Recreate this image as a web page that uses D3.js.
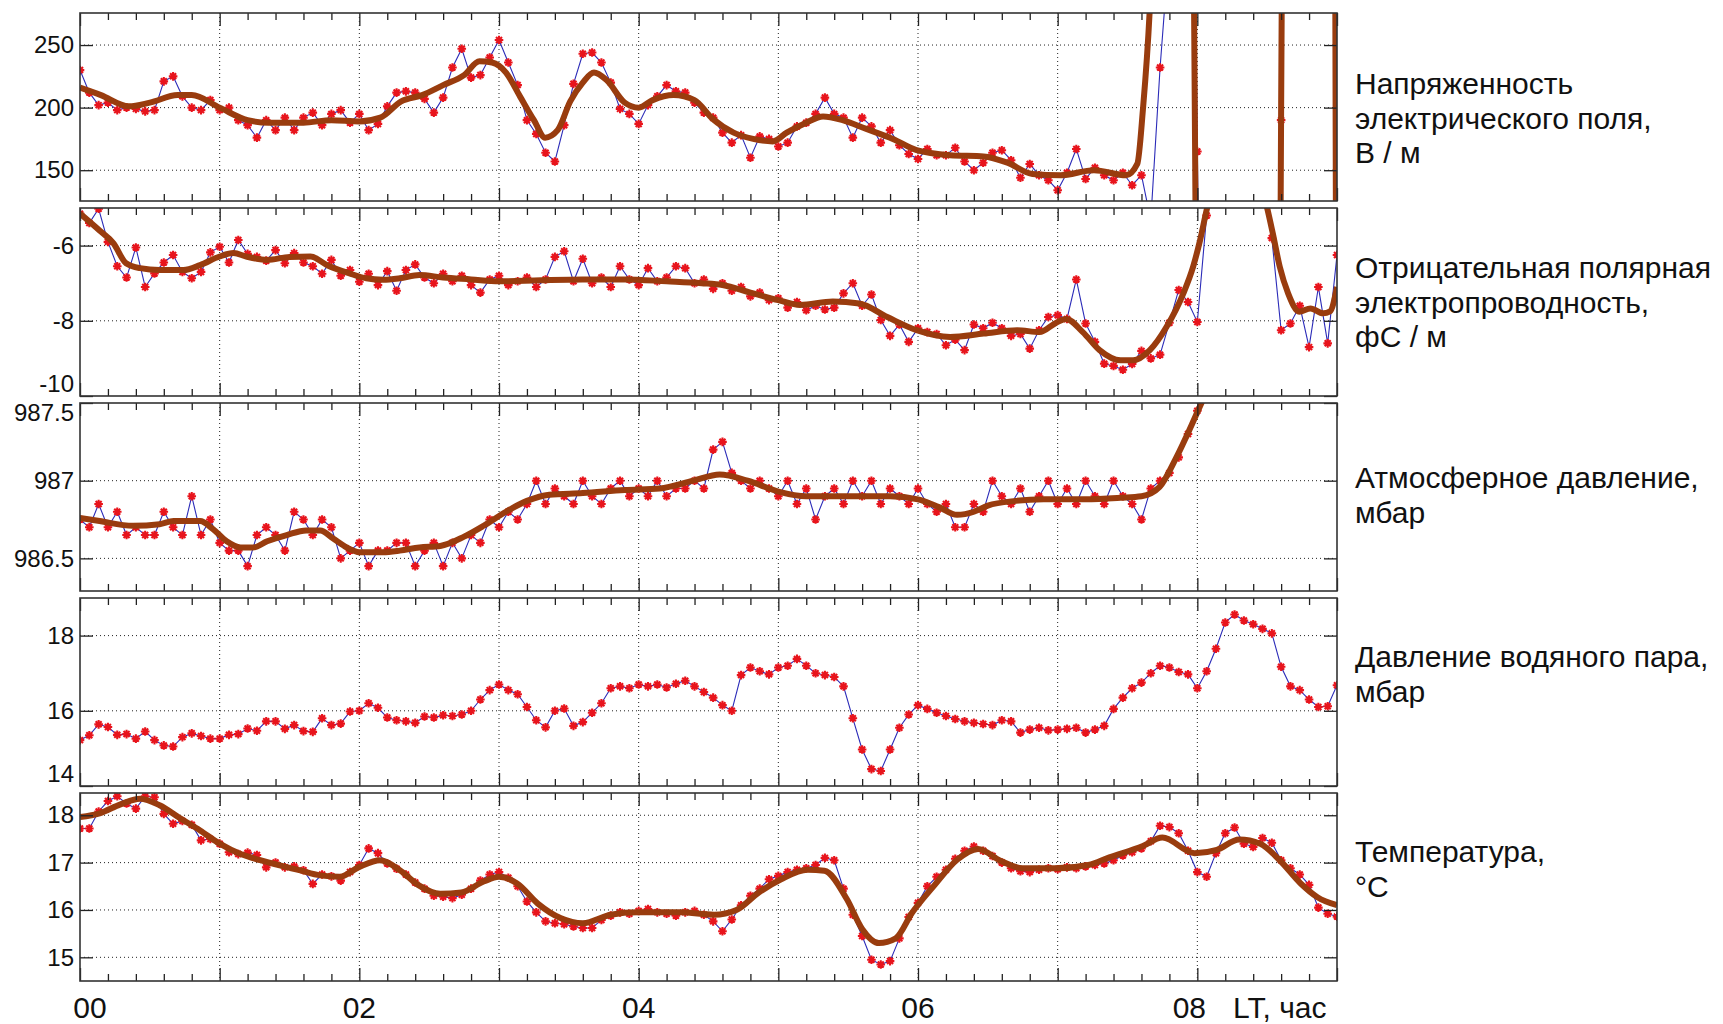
<!DOCTYPE html>
<html>
<head>
<meta charset="utf-8">
<script src="https://cdn.jsdelivr.net/npm/d3@7"></script>
<style>
  body { margin: 0; background: #fff; }
  svg { display: block; font-family: "Liberation Sans", Arial, sans-serif; }
  .grid line { stroke: #222; stroke-width: 1; stroke-dasharray: 1,3; }
</style>
</head>
<body>
<svg id="chart" width="1723" height="1024"></svg>
<script>
// sampling step of the raw records, minutes (time = index * step)
const STEP_MIN = 4;

// --- electric field, V/m
const fieldRaw = [
  230,212,202,204,198,200,199,197,198,221,
  225,209,200,198,206,198,200,190,186,176,
  190,182,192,182,192,196,186,195,198,188,
  195,182,187,201,212,213,212,207,196,208,
  232,247,224,226,240,254,236,218,190,179,
  164,157,186,219,243,244,236,220,199,195,
  187,202,209,218,213,212,204,196,192,180,
  172,178,160,177,175,169,172,185,188,195,
  208,195,192,176,192,185,172,182,170,163,
  159,167,162,162,168,157,150,156,164,166,
  158,144,155,146,142,134,148,167,143,152,
  146,142,148,138,146,110,232,330,520,800,
  165,-400,-500,-600,-600,-600,-500,-500,-400,190,
  800,900,900,900,900,900
];
const fieldSmoothT = [0,0.15,0.35,0.5,0.7,0.8,1.0,1.2,1.35,1.6,1.8,2.0,2.15,2.3,2.45,2.6,2.75,2.86,2.95,
  3.05,3.15,3.25,3.33,3.42,3.51,3.6,3.68,3.77,3.9,4.0,4.1,4.25,4.4,4.53,4.68,4.82,4.96,
  5.06,5.2,5.32,5.46,5.63,5.82,5.99,6.23,6.47,6.64,6.82,7.02,7.26,7.49,7.57,7.61,7.66,7.75,7.85,7.9,7.985,
  8.05,8.3,8.56,8.6,8.65,8.85,8.98,9.0];
const fieldSmoothV = [216,210,201,204,210,210,200,190,188,188,190,189,192,205,210,218,226,237,236,
  228,209,190,176,182,205,220,228,222,204,200,206,210,206,191,180,175,173,
  180,188,193,190,183,175,166,162,161,156,147,146,150,146,155,198,280,600,900,1200,150,
  -800,-1500,-600,200,1000,1500,600,-200];
const fieldTicks = [150, 200, 250];
const fieldLabel = ["Напряженность", "электрического поля,", "В / м"];

// --- negative polar conductivity, fS/m
const condRaw = [
  -5.15,-5.40,-5.02,-5.90,-6.55,-6.85,-6.05,-7.10,-6.74,-6.45,
  -6.25,-6.70,-6.87,-6.70,-6.18,-6.03,-6.45,-5.85,-6.22,-6.30,
  -6.40,-6.12,-6.47,-6.20,-6.45,-6.55,-6.75,-6.38,-6.80,-6.65,
  -6.96,-6.75,-7.05,-6.68,-7.20,-6.65,-6.50,-6.85,-7.00,-6.75,
  -6.95,-6.80,-7.05,-7.25,-6.90,-6.80,-7.05,-6.95,-6.85,-7.10,
  -6.90,-6.30,-6.15,-6.95,-6.35,-7.00,-6.85,-7.10,-6.55,-6.90,
  -7.05,-6.60,-6.95,-6.85,-6.55,-6.60,-7.00,-6.90,-7.15,-7.00,
  -7.20,-7.10,-7.35,-7.25,-7.45,-7.40,-7.65,-7.50,-7.72,-7.60,
  -7.70,-7.65,-7.27,-7.00,-7.60,-7.30,-7.98,-8.40,-8.10,-8.56,
  -8.20,-8.30,-8.35,-8.65,-8.50,-8.78,-8.10,-8.20,-8.05,-8.20,
  -8.40,-8.35,-8.74,-8.25,-7.90,-7.85,-7.95,-6.90,-8.07,-8.56,
  -9.14,-9.20,-9.30,-9.15,-8.80,-9.00,-8.90,-8.05,-7.18,-7.50,
  -8.03,-5.20,-4.20,-3.80,-3.60,-3.60,-3.80,-4.30,-5.80,-8.25,
  -8.07,-7.60,-8.70,-7.10,-8.60,-6.25
];
const condSmoothT = [0,0.14,0.24,0.33,0.43,0.57,0.74,0.86,1.0,1.1,1.19,1.34,1.5,1.65,1.77,1.93,
  2.05,2.17,2.29,2.43,2.6,2.8,3.0,3.3,3.6,3.9,4.2,4.45,4.6,4.8,5.0,5.155,5.39,5.58,5.78,5.99,
  6.23,6.47,6.71,6.87,6.99,7.06,7.18,7.3,7.45,7.54,7.66,7.78,7.9,7.97,
  8.02,8.07,8.15,8.3,8.45,8.5,8.54,8.59,8.65,8.73,8.81,8.9,8.95,9.0];
const condSmoothV = [-5.15,-5.6,-5.94,-6.47,-6.6,-6.65,-6.65,-6.52,-6.29,-6.2,-6.29,-6.38,-6.3,-6.29,-6.52,-6.74,
  -6.87,-6.91,-6.87,-6.78,-6.85,-6.9,-6.95,-6.92,-6.9,-6.9,-6.95,-7.0,-7.05,-7.25,-7.45,-7.58,-7.49,-7.54,-7.9,-8.25,
  -8.43,-8.34,-8.25,-8.3,-8.05,-7.95,-8.3,-8.78,-9.05,-9.05,-8.78,-8.16,-7.27,-6.56,
  -5.85,-5.0,-4.0,-3.5,-4.3,-5.0,-5.67,-6.56,-7.27,-7.76,-7.67,-7.8,-7.75,-7.1];
const condTicks = [-10, -8, -6];
const condLabel = ["Отрицательная полярная", "электропроводность,", "фС / м"];

// --- atmospheric pressure, mbar
const pressRaw = [
  986.75,986.70,986.85,986.70,986.80,986.65,986.70,986.65,986.65,986.80,
  986.70,986.65,986.90,986.65,986.75,986.60,986.55,986.55,986.45,986.65,
  986.70,986.65,986.55,986.80,986.75,986.65,986.75,986.70,986.50,986.55,
  986.60,986.45,986.55,986.55,986.60,986.60,986.45,986.55,986.60,986.45,
  986.60,986.50,986.65,986.60,986.75,986.70,986.80,986.75,986.85,987.00,
  986.85,986.95,986.90,986.85,987.00,986.90,986.85,986.95,987.00,986.90,
  986.95,986.90,987.00,986.90,986.95,986.95,987.00,986.95,987.20,987.25,
  987.05,987.00,986.95,987.00,986.95,986.90,987.00,986.85,986.95,986.75,
  986.90,986.95,986.85,987.00,986.90,987.00,986.85,986.95,986.90,986.85,
  986.95,986.85,986.80,986.85,986.70,986.70,986.85,986.80,987.00,986.90,
  986.85,986.95,986.80,986.90,987.00,986.85,986.95,986.85,987.00,986.90,
  986.85,987.00,986.90,986.85,986.75,986.95,987.00,987.05,987.15,987.30,
  987.45,987.60,987.70,987.80,987.90,988.00,988.10,988.20,988.30,988.30,
  988.40,988.40,988.50,988.50,988.60,988.60
];
const pressSmoothT = [0,0.14,0.38,0.57,0.67,0.86,0.95,1.05,1.15,1.24,1.34,1.48,1.62,1.72,1.81,1.91,
  2.0,2.17,2.29,2.43,2.58,2.75,2.89,3.05,3.2,3.36,3.6,3.9,4.15,4.39,4.58,4.78,5.0,5.2,5.5,5.8,
  6.0,6.15,6.28,6.4,6.5,6.7,6.9,7.2,7.45,7.6,7.73,7.85,7.96,8.04,8.2,9.0];
const pressSmoothV = [986.76,986.74,986.71,986.72,986.74,986.74,986.69,986.61,986.57,986.57,986.61,986.65,986.68,986.68,986.63,986.57,
  986.54,986.54,986.55,986.57,986.58,986.64,986.71,986.8,986.87,986.91,986.92,986.94,986.95,987.0,987.04,987.0,986.93,986.9,986.9,986.9,
  986.88,986.83,986.78,986.8,986.84,986.87,986.88,986.88,986.89,986.9,986.96,987.15,987.36,987.52,987.8,988.5];
const pressTicks = [986.5, 987, 987.5];
const pressLabel = ["Атмосферное давление,", "мбар"];

// --- water vapour pressure, mbar
const vaporRaw = [
  15.22,15.35,15.64,15.57,15.36,15.38,15.26,15.45,15.22,15.08,
  15.05,15.30,15.40,15.33,15.26,15.26,15.36,15.38,15.53,15.47,
  15.72,15.72,15.52,15.62,15.46,15.44,15.80,15.62,15.66,15.98,
  16.00,16.20,16.08,15.82,15.75,15.72,15.68,15.85,15.82,15.88,
  15.86,15.90,16.00,16.30,16.55,16.70,16.55,16.44,16.10,15.75,
  15.56,16.00,16.06,15.60,15.70,15.95,16.20,16.60,16.65,16.60,
  16.70,16.65,16.70,16.62,16.72,16.80,16.65,16.50,16.35,16.15,
  16.00,16.95,17.15,17.05,16.97,17.15,17.20,17.38,17.20,17.00,
  16.95,16.90,16.65,15.80,14.97,14.45,14.40,14.97,15.55,15.90,
  16.15,16.05,15.95,15.86,15.78,15.72,15.68,15.65,15.62,15.75,
  15.72,15.42,15.50,15.55,15.48,15.50,15.52,15.55,15.42,15.50,
  15.60,16.05,16.35,16.60,16.75,17.00,17.20,17.15,17.03,16.97,
  16.60,17.05,17.65,18.35,18.56,18.40,18.30,18.18,18.06,17.17,
  16.65,16.55,16.30,16.10,16.12,16.68
];
const vaporTicks = [14, 16, 18];
const vaporLabel = ["Давление водяного пара,", "мбар"];

// --- temperature, degC
const tempRaw = [
  17.72,17.72,18.08,18.30,18.40,18.25,18.14,18.40,18.38,18.03,
  17.82,17.88,17.80,17.47,17.50,17.40,17.22,17.18,17.21,17.16,
  16.90,17.00,16.90,16.92,16.84,16.55,16.75,16.71,16.62,16.80,
  16.95,17.30,17.20,16.98,16.87,16.75,16.58,16.45,16.30,16.28,
  16.25,16.32,16.45,16.62,16.75,16.80,16.68,16.50,16.18,15.95,
  15.76,15.72,15.70,15.65,15.62,15.62,15.79,15.88,15.95,15.92,
  15.98,16.02,15.95,15.92,15.88,15.95,15.98,15.90,15.76,15.55,
  15.80,16.10,16.30,16.45,16.65,16.72,16.80,16.85,16.88,16.95,
  17.10,17.05,16.45,15.90,15.45,14.95,14.85,14.92,15.40,15.85,
  16.15,16.50,16.70,16.85,17.08,17.25,17.34,17.25,17.14,17.00,
  16.88,16.82,16.80,16.85,16.88,16.86,16.90,16.88,16.92,16.95,
  16.98,17.05,17.15,17.22,17.30,17.45,17.78,17.75,17.62,17.25,
  16.80,16.70,17.20,17.62,17.74,17.40,17.33,17.52,17.42,17.05,
  16.88,16.75,16.53,16.05,15.92,15.86
];
const tempSmoothT = [0,0.14,0.29,0.43,0.57,0.72,0.86,1.0,1.15,1.29,1.43,1.57,1.72,1.86,
  2.0,2.15,2.29,2.42,2.58,2.73,2.89,3.0,3.13,3.28,3.44,3.6,3.8,3.99,4.3,4.54,4.7,4.86,
  5.02,5.21,5.33,5.49,5.6,5.72,5.84,5.96,6.12,6.28,6.43,6.59,6.75,6.98,7.22,7.37,7.61,7.75,7.98,
  8.14,8.3,8.45,8.59,8.74,8.86,9.0];
const tempSmoothV = [17.96,18.04,18.23,18.35,18.21,17.93,17.68,17.4,17.18,17.05,16.94,16.84,16.73,16.7,
  16.91,17.05,16.84,16.53,16.34,16.37,16.6,16.7,16.56,16.13,15.83,15.72,15.9,15.95,15.95,15.9,16.0,16.37,
  16.65,16.85,16.83,16.23,15.6,15.3,15.4,15.95,16.53,17.06,17.29,17.04,16.88,16.88,16.95,17.11,17.35,17.53,17.2,
  17.27,17.49,17.4,17.05,16.56,16.27,16.1];
const tempTicks = [15, 16, 17, 18];
const tempLabel = ["Температура,", "°C"];

// x axis labels (hours)
const hourLabels = ["00", "02", "04", "06", "08"];
const hourLabelAt = [0, 2, 4, 6, 8];
const axisTitle = "LT, час";

// ---------------------------------------------------------------
const BLUE = "#2b2bb8", RED = "#e8141c", BROWN = "#993c0e";
// asterisk marker, a bit fat so that neighbours run into a red band
const MARK = "M-4.3,0H4.3M0,-4.3V4.3M-3,-3L3,3M-3,3L3,-3";

const svg = d3.select("#chart");
const x = d3.scaleLinear().domain([0, 9]).range([80, 1337]);
const panelTop = 13, panelPitch = 195, panelH = 188;
const hourOf = k => k * STEP_MIN / 60;

const panels = [
  {raw: fieldRaw, st: fieldSmoothT, sv: fieldSmoothV, domain: [125.4, 275.6], ticks: fieldTicks, label: fieldLabel, labelY: 94},
  {raw: condRaw,  st: condSmoothT,  sv: condSmoothV,  domain: [-10, -5],      ticks: condTicks,  label: condLabel,  labelY: 278},
  {raw: pressRaw, st: pressSmoothT, sv: pressSmoothV, domain: [986.29, 987.5], ticks: pressTicks, label: pressLabel, labelY: 488},
  {raw: vaporRaw, st: null,         sv: null,         domain: [14, 19],       ticks: vaporTicks, label: vaporLabel, labelY: 667},
  {raw: tempRaw,  st: tempSmoothT,  sv: tempSmoothV,  domain: [14.5, 18.47],  ticks: tempTicks,  label: tempLabel,  labelY: 862}
];

const minorHours = d3.range(0, 9.0001, 0.2).filter(h => Math.abs(h - Math.round(h)) > 1e-6);
const majorHours = d3.range(0, 10);

const defs = svg.append("defs");

panels.forEach((p, i) => {
  const top = panelTop + i * panelPitch, bot = top + panelH;
  const y = d3.scaleLinear().domain(p.domain).range([bot, top]);
  const g = svg.append("g").attr("class", "panel");

  defs.append("clipPath").attr("id", "clip" + i)
    .append("rect")
    .attr("x", x(0)).attr("y", top)
    .attr("width", x(9) - x(0)).attr("height", panelH);

  // dotted grid
  const grid = g.append("g").attr("class", "grid");
  grid.selectAll("line.h")
    .data(p.ticks.filter(t => y(t) > top + 2 && y(t) < bot - 2))
    .enter().append("line").attr("class", "h")
    .attr("x1", x(0)).attr("x2", x(9))
    .attr("y1", d => y(d)).attr("y2", d => y(d));
  grid.selectAll("line.v")
    .data(d3.range(1, 9))
    .enter().append("line").attr("class", "v")
    .attr("x1", d => x(d)).attr("x2", d => x(d))
    .attr("y1", top).attr("y2", bot);

  // data
  const plot = g.append("g").attr("clip-path", "url(#clip" + i + ")");
  const rawLine = d3.line().x((d, k) => x(hourOf(k))).y(d => y(d));
  plot.append("path")
    .datum(p.raw)
    .attr("d", rawLine)
    .attr("fill", "none")
    .attr("stroke", BLUE)
    .attr("stroke-width", 1.1);

  plot.selectAll("path.mk")
    .data(p.raw)
    .enter().append("path").attr("class", "mk")
    .attr("transform", (d, k) => "translate(" + x(hourOf(k)) + "," + y(d) + ")")
    .attr("d", MARK)
    .attr("stroke", RED)
    .attr("stroke-width", 2.1)
    .attr("fill", "none");

  if (p.st) {
    const pts = p.st.map((t, k) => [t, p.sv[k]]);
    plot.append("path")
      .datum(pts)
      .attr("d", d3.line().x(d => x(d[0])).y(d => y(d[1])).curve(d3.curveMonotoneX))
      .attr("fill", "none")
      .attr("stroke", BROWN)
      .attr("stroke-width", 6)
      .attr("stroke-linejoin", "round");
  }

  // ticks, inward on all four sides
  const tickCol = "#222";
  const addX = (axisFn, yPos, vals, size) => {
    const a = g.append("g")
      .attr("transform", "translate(0," + yPos + ")")
      .attr("color", tickCol)
      .call(axisFn(x).tickValues(vals).tickSize(size).tickFormat(""));
    a.select(".domain").remove();
    a.selectAll("line").attr("stroke-width", 1.3);
  };
  addX(d3.axisBottom, bot, minorHours, -7);
  addX(d3.axisBottom, bot, majorHours, -13);
  addX(d3.axisTop, top, minorHours, -7);
  addX(d3.axisTop, top, majorHours, -13);

  const yl = g.append("g")
    .attr("transform", "translate(" + x(0) + ",0)")
    .attr("color", tickCol)
    .call(d3.axisLeft(y).tickValues(p.ticks).tickSize(-13).tickPadding(6).tickFormat(d => String(d)));
  yl.select(".domain").remove();
  yl.selectAll("line").attr("stroke-width", 1.3);
  yl.selectAll("text")
    .attr("font-size", 24)
    .attr("font-family", "Liberation Sans, Arial, sans-serif")
    .attr("fill", "#111")
    .attr("transform", d => {
      const py = y(d);
      if (py < top + 4) return "translate(0,10)";
      if (py > bot - 4) return "translate(0,-12)";
      return null;
    });

  const yr = g.append("g")
    .attr("transform", "translate(" + x(9) + ",0)")
    .attr("color", tickCol)
    .call(d3.axisRight(y).tickValues(p.ticks).tickSize(-13).tickFormat(""));
  yr.select(".domain").remove();
  yr.selectAll("line").attr("stroke-width", 1.3);

  // frame
  g.append("rect")
    .attr("x", x(0)).attr("y", top)
    .attr("width", x(9) - x(0)).attr("height", panelH)
    .attr("fill", "none")
    .attr("stroke", "#333")
    .attr("stroke-width", 1.6);

  // quantity label on the right
  g.append("g").selectAll("text")
    .data(p.label)
    .enter().append("text")
    .attr("x", 1355)
    .attr("y", (d, k) => p.labelY + k * 34.6)
    .attr("font-size", 30)
    .attr("fill", "#111")
    .text(d => d);
});

// hour labels under the last panel
const nudge = {0: 10, 8: -8};
svg.append("g").selectAll("text")
  .data(hourLabels)
  .enter().append("text")
  .attr("x", (d, k) => x(hourLabelAt[k]) + (nudge[hourLabelAt[k]] || 0))
  .attr("y", 1018)
  .attr("text-anchor", "middle")
  .attr("font-size", 30)
  .attr("fill", "#111")
  .text(d => d);

svg.append("text")
  .attr("x", 1233)
  .attr("y", 1018)
  .attr("font-size", 30)
  .attr("fill", "#111")
  .text(axisTitle);
</script>
</body>
</html>
